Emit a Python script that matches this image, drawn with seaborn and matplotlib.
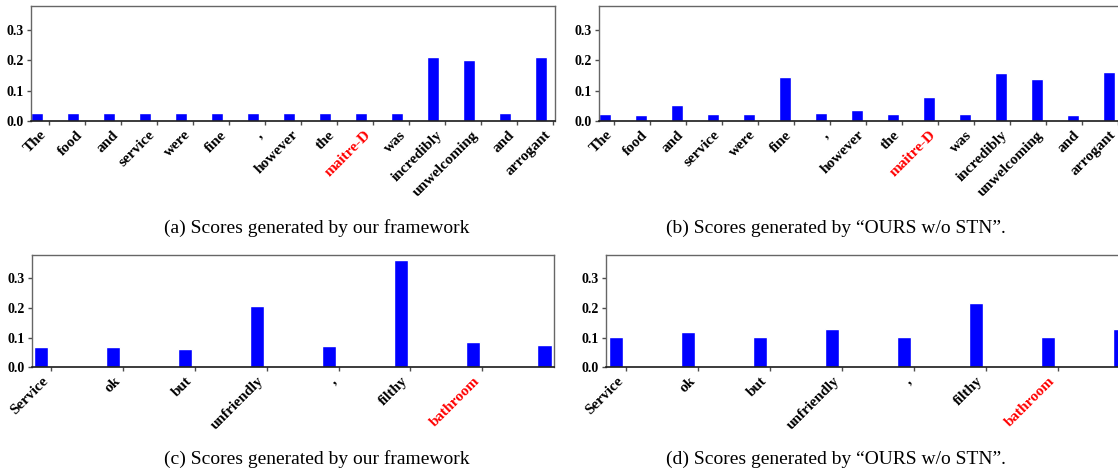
import matplotlib
matplotlib.use('Agg')
import matplotlib.pyplot as plt
import seaborn as sns
import numpy as np

# sentence 1 (panels a, b)
words_top = ["The", "food", "and", "service", "were", "fine", ",", "however",
             "the", "maitre-D", "was", "incredibly", "unwelcoming", "and", "arrogant"]
scores_a = [0.027, 0.027, 0.027, 0.027, 0.027, 0.027, 0.027, 0.027,
            0.027, 0.027, 0.027, 0.212, 0.202, 0.027, 0.212]
scores_b = [0.024, 0.021, 0.054, 0.024, 0.024, 0.146, 0.027, 0.037,
            0.024, 0.080, 0.024, 0.159, 0.140, 0.021, 0.163]

# sentence 2 (panels c, d)
words_bottom = ["Service", "ok", "but", "unfriendly", ",", "filthy", "bathroom", "."]
scores_c = [0.068, 0.068, 0.061, 0.206, 0.072, 0.361, 0.085, 0.075]
scores_d = [0.102, 0.119, 0.102, 0.129, 0.102, 0.216, 0.102, 0.129]

aspect_top = "maitre-D"
aspect_bottom = "bathroom"

captions = ["(a) Scores generated by our framework",
            "(b) Scores generated by \u201cOURS w/o STN\u201d.",
            "(c) Scores generated by our framework",
            "(d) Scores generated by \u201cOURS w/o STN\u201d."]
yticks = [0.0, 0.1, 0.2, 0.3]

sns.set_style("ticks")
plt.rcParams['font.family'] = ['Liberation Serif', 'DejaVu Serif']
plt.rcParams['text.color'] = 'black'
plt.rcParams['xtick.labelcolor'] = 'black'
plt.rcParams['ytick.labelcolor'] = 'black'

W, H = 1118, 476
fig = plt.figure(figsize=(W / 100, H / 100), dpi=100)


def add_axes_px(left, right, top, bottom):
    return fig.add_axes([left / W, 1 - bottom / H, (right - left) / W, (bottom - top) / H])


def draw_panel(ax, words, scores, aspect, bar_width, tick_shift, xlim):
    n = len(words)
    sns.barplot(x=np.arange(n), y=scores, color='blue', saturation=1,
                width=bar_width, errorbar=None, ax=ax)
    ax.set_xticks(np.arange(n) + tick_shift)
    ax.set_xticklabels(words, rotation=45, ha='right', fontweight='bold', fontsize=11)
    for lbl in ax.get_xticklabels():
        if lbl.get_text() == aspect:
            lbl.set_color('red')
    ax.set_xlim(*xlim)
    ax.set_ylim(0, 0.38)
    ax.set_yticks(yticks)
    ax.set_yticklabels([f"{v:.1f}" for v in yticks], fontweight='bold', fontsize=10)
    ax.set_xlabel('')
    ax.set_ylabel('')
    for side in ['top', 'right', 'left']:
        ax.spines[side].set_color('0.4')
        ax.spines[side].set_linewidth(1.0)
    ax.spines['bottom'].set_color('0.1')
    ax.spines['bottom'].set_linewidth(1.2)
    ax.tick_params(length=3, width=1, color='0.3', pad=2)


ax_a = add_axes_px(31, 555, 5.7, 121.3)
ax_b = add_axes_px(598.7, 1122.7, 5.7, 121.3)
ax_c = add_axes_px(31.7, 554, 254.7, 367.3)
ax_d = add_axes_px(605.7, 1128, 254.7, 367.3)

draw_panel(ax_a, words_top, scores_a, aspect_top, 1 / 3, 1 / 3, (-1 / 6, 14.39))
draw_panel(ax_b, words_top, scores_b, aspect_top, 1 / 3, 0.27, (-1 / 6, 14.39))
draw_panel(ax_c, words_bottom, scores_c, aspect_bottom, 0.2, 0.135, (-0.13, 7.13))
draw_panel(ax_d, words_bottom, scores_d, aspect_bottom, 0.2, 0.135, (-0.146, 7.11))

cap_pos = [(317, 228), (836, 228), (317, 459), (836, 459)]
for (cx, cy), text in zip(cap_pos, captions):
    fig.text(cx / W, 1 - cy / H, text, ha='center', va='center', fontsize=14)

fig.savefig('out.png', dpi=100)
plt.close(fig)
